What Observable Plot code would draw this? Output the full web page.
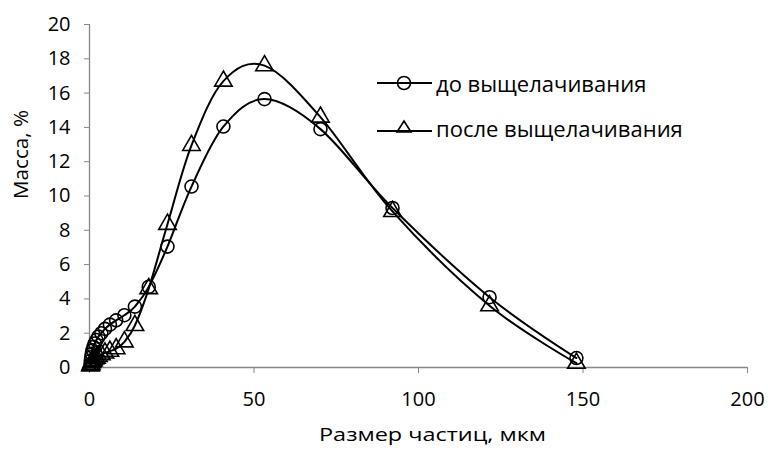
<!DOCTYPE html>
<html><head><meta charset="utf-8">
<script src="https://cdn.jsdelivr.net/npm/d3@7"></script>
<script src="https://cdn.jsdelivr.net/npm/@observablehq/plot@0.6"></script>
<style>
body{margin:0;background:#fff}
#chart{position:relative;width:768px;height:450px;font-family:"Open Sans",sans-serif}
#legend{position:absolute;left:376px;top:60px;font-size:22px;color:#000}
#legend div{display:flex;align-items:center;height:45px}
#legend svg{margin-right:3px}
</style>
</head><body><div id="chart"><div id="legend"></div></div>
<script>
const sizes  = [0.3, 0.4, 0.5, 0.7, 0.9, 1.2, 1.6, 2.1, 2.7, 3.6, 4.7, 6.2, 8.1, 10.6, 13.8, 18, 23.7, 31, 40.7, 53.2, 70.2, 92.1, 121.6, 148];
const before = [0.2, 0.4, 0.6, 0.8, 1.0, 1.2, 1.4, 1.6, 1.8, 2.0, 2.25, 2.5, 2.75, 3.05, 3.55, 4.7, 7.05, 10.55, 14.05, 15.65, 13.9, 9.3, 4.1, 0.55];
const after  = [0.1, 0.15, 0.2, 0.3, 0.35, 0.4, 0.5, 0.55, 0.65, 0.75, 0.85, 0.95, 1.1, 1.5, 2.45, 4.6, 8.35, 12.95, 16.7, 17.6, 14.6, 9.1, 3.6, 0.25];
const seriesNames = ["до выщелачивания", "после выщелачивания"];
const seriesSymbols = ["circle", "triangle"];
const xTicks = [0, 50, 100, 150, 200];
const yTicks = [0, 2, 4, 6, 8, 10, 12, 14, 16, 18, 20];
const xLabel = "Размер частиц, мкм";
const yLabel = "Масса, %";

const rows = [];
sizes.forEach((s, i) => {
  rows.push({size: s, mass: before[i], series: seriesNames[0]});
  rows.push({size: s, mass: after[i], series: seriesNames[1]});
});

const axisColor = "#868686";
const plot = Plot.plot({
  width: 768, height: 450,
  marginLeft: 89, marginRight: 21, marginTop: 24, marginBottom: 83,
  style: {fontFamily: "'Open Sans', sans-serif", color: "#000", background: "#fff", overflow: "visible"},
  x: {domain: [0, 200]},
  y: {domain: [0, 20]},
  symbol: {domain: seriesNames, range: seriesSymbols},
  marks: [
    Plot.ruleY([0], {stroke: axisColor, strokeWidth: 1.3}),
    Plot.ruleX([0], {stroke: axisColor, strokeWidth: 1.3}),
    Plot.axisX({ticks: xTicks, tickSize: 6, tickPadding: 18, stroke: axisColor, fill: "#000", fontSize: 20, label: null}),
    Plot.axisY({ticks: yTicks, tickSize: 5, tickPadding: 14, stroke: axisColor, fill: "#000", fontSize: 20, label: null}),
    Plot.text([xLabel], {frameAnchor: "bottom", dx: 14, dy: 73, fontSize: 18.5, fill: "#000"}),
    Plot.text([yLabel], {frameAnchor: "left", dx: -68, dy: 3, rotate: -90, fontSize: 20, fill: "#000"}),
    Plot.line(rows, {x: "size", y: "mass", z: "series", stroke: "#000", strokeWidth: 2, curve: "cardinal", tension: 0}),
    Plot.dot(rows, {x: "size", y: "mass", symbol: "series", stroke: "#000", strokeWidth: 1.6, fill: "none", r: 6.5})
  ]
});
// stretch the axis titles to the widths they have in the reference
plot.querySelectorAll("text").forEach(t => {
  if (t.textContent === xLabel) { t.setAttribute("textLength", 227); t.setAttribute("lengthAdjust", "spacingAndGlyphs"); }
  if (t.textContent === yLabel) { t.setAttribute("textLength", 89); t.setAttribute("lengthAdjust", "spacingAndGlyphs"); }
});
document.getElementById("chart").prepend(plot);

// legend
const leg = document.getElementById("legend");
seriesNames.forEach((name, i) => {
  const row = document.createElement("div");
  const sym = seriesSymbols[i] === "circle"
    ? '<circle cx="28" cy="10" r="6.5" fill="none" stroke="#000" stroke-width="1.6"/>'
    : '<path d="M28,3 L35,14 L21,14 Z" fill="none" stroke="#000" stroke-width="1.6"/>';
  row.innerHTML = `<svg width="57" height="20"><line x1="1" x2="56" y1="${i === 0 ? 10 : 13}" y2="${i === 0 ? 10 : 13}" stroke="#000" stroke-width="2"/>${sym}</svg><span>${name}</span>`;
  leg.appendChild(row);
});
</script>
</body></html>
